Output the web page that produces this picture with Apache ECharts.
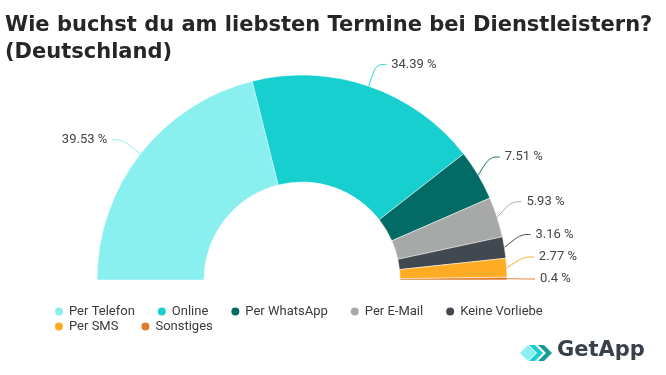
<!DOCTYPE html>
<html>
<head>
<meta charset="utf-8">
<script src="https://cdn.jsdelivr.net/npm/echarts@6/dist/echarts.min.js"></script>
<style>
  html, body { margin: 0; padding: 0; background: #fff; }
  #main { width: 666px; height: 375px; }
</style>
</head>
<body>
<div id="main"></div>
<script>
  // Daten
  const categories = ['Per Telefon', 'Online', 'Per WhatsApp', 'Per E-Mail', 'Keine Vorliebe', 'Per SMS', 'Sonstiges'];
  const values = [39.53, 34.39, 7.51, 5.93, 3.16, 2.77, 0.4];
  const colors = ['#8AEFEF', '#17CFCF', '#036B66', '#A7A9A9', '#424850', '#FFAB24', '#E07B2A'];

  const chart = echarts.init(document.getElementById('main'));

  const legendStyle = {
    icon: 'circle',
    itemWidth: 10,
    itemHeight: 10,
    itemGap: 21,
    padding: 0,
    left: 53,
    textStyle: { fontFamily: 'Roboto', fontSize: 13, color: '#3a3a3a' }
  };

  const option = {
    textStyle: { fontFamily: 'Roboto' },
    title: {
      text: 'Wie buchst du am liebsten Termine bei Dienstleistern?\n(Deutschland)',
      left: 0,
      top: 7,
      textStyle: {
        fontFamily: 'DejaVu Sans',
        fontWeight: 'bold',
        fontSize: 21,
        lineHeight: 27,
        color: '#262626'
      }
    },
    legend: [
      Object.assign({ data: categories.slice(0, 5), top: 305 }, legendStyle),
      Object.assign({ data: categories.slice(5), top: 320 }, legendStyle)
    ],
    series: [{
      type: 'pie',
      left: 0,
      top: 0,
      width: 666,
      height: 290,
      center: [302, 280],
      radius: [98, 205],
      startAngle: 180,
      endAngle: 0,
      clockwise: true,
      animation: false,
      silent: true,
      itemStyle: { borderColor: '#fff', borderWidth: 0.5 },
      label: {
        show: true,
        position: 'outside',
        formatter: p => p.value + ' %',
        fontSize: 13,
        lineHeight: 20,
        color: '#444'
      },
      labelLine: {
        show: true,
        length: 23,
        length2: 10,
        smooth: 0.4,
        lineStyle: { width: 1 }
      },
      data: categories.map((c, i) => ({
        name: c,
        value: values[i],
        itemStyle: { color: colors[i] }
      }))
    }],
    graphic: [
      {
        type: 'polygon',
        shape: { points: [[520, 353], [528, 345], [536, 353], [528, 361]] },
        style: { fill: '#8AEFEF' }
      },
      {
        type: 'polygon',
        shape: { points: [[529, 345], [535, 345], [543, 353], [535, 361], [529, 361], [537, 353]] },
        style: { fill: '#17CFCF' }
      },
      {
        type: 'polygon',
        shape: { points: [[538, 345], [544, 345], [552, 353], [544, 361], [538, 361], [546, 353]] },
        style: { fill: '#149C97' }
      },
      {
        type: 'text',
        left: 557,
        top: 340,
        style: {
          text: 'GetApp',
          font: 'bold 21px "DejaVu Sans"',
          fill: '#38404A'
        }
      }
    ]
  };

  chart.setOption(option);
</script>
</body>
</html>
